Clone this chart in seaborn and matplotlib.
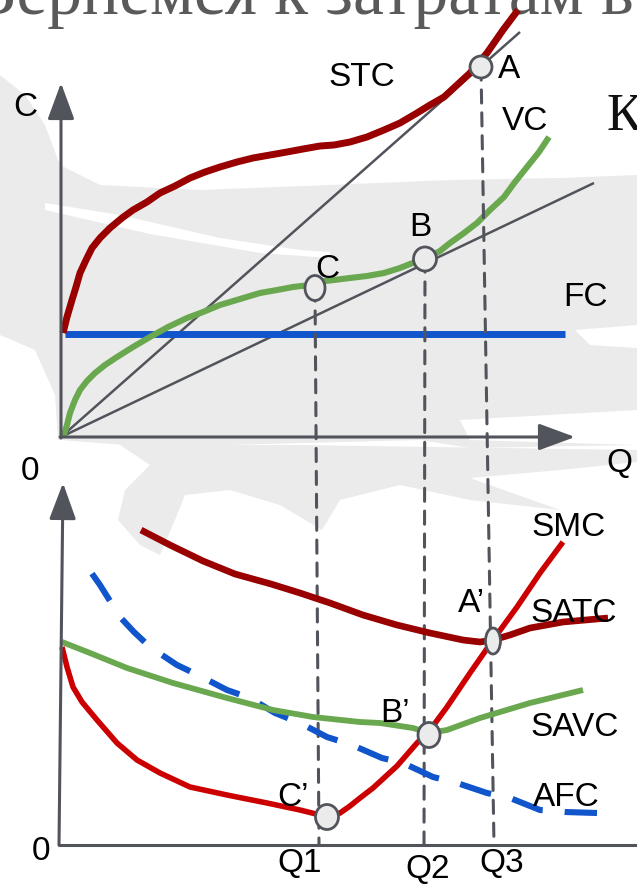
import numpy as np
import pandas as pd
import matplotlib
matplotlib.use("Agg")
import matplotlib.pyplot as plt
import seaborn as sns
from matplotlib.patches import Ellipse, Polygon, ConnectionPatch

# ---------------- data ----------------
# Upper panel: total costs (Q, C), origin at the corner of the axes
stc_q = [1, 5, 10, 14, 18, 24, 30, 38, 48, 60, 71, 85, 98, 113, 128, 143, 158, 175, 191, 208, 225, 241,
         258, 272, 288, 305, 322, 338, 355, 368, 382, 395, 408, 425, 441, 456]
stc_c = [104, 120, 137, 150, 164, 177, 189, 199, 209, 219, 227, 235, 244, 251, 259, 265, 270, 275, 279, 282,
         285, 288, 291, 292, 295, 300, 307, 314, 324, 332, 340, 352, 364, 384, 407, 427]
vc_q = [1, 5, 8, 13, 18, 25, 33, 43, 55, 71, 88, 106, 125, 141, 158, 178, 198, 215, 231, 248, 255, 272,
        288, 305, 322, 338, 348, 365, 378, 388, 402, 415, 428, 442, 453, 465, 477, 487]
vc_c = [0, 12, 24, 37, 47, 56, 64, 72, 80, 90, 100, 110, 119, 125, 132, 138, 144, 147, 150, 152, 155, 157,
        159, 161, 164, 169, 173, 179, 186, 194, 204, 214, 227, 240, 255, 270, 285, 300]
fc_q = [3, 503]
fc_c = [103, 103]
rayA_q = [-1, 458]
rayA_c = [0, 405]
rayB_q = [-1, 532]
rayB_c = [0, 254]
top_pts_names = ["A", "B", "C"]
top_pts_q = [419, 363, 253]
top_pts_c = [370, 178, 149]

# Lower panel: average and marginal costs
satc_q = [81, 110, 143, 175, 211, 240, 270, 303, 337, 370, 403, 420, 433, 450, 470, 503, 548]
satc_c = [315, 300, 284, 271, 261, 252, 242, 230, 220, 212, 205, 203, 205, 210, 217, 223, 227]
savc_q = [2, 30, 67, 113, 167, 213, 253, 300, 320, 353, 369, 387, 420, 470, 523]
savc_c = [203, 192, 177, 162, 147, 135, 128, 123, 122, 117, 112, 115, 127, 142, 155]
smc_q = [2, 7, 13, 22, 37, 57, 77, 100, 130, 167, 207, 240, 260, 267, 280, 290, 300, 313, 337, 357, 370,
         387, 410, 433, 457, 480, 503]
smc_c = [198, 178, 158, 143, 125, 102, 85, 72, 58, 50, 42, 35, 30, 28, 32, 39, 47, 57, 79, 102, 115,
         138, 172, 205, 238, 272, 303]
afc_q = [21, 40, 60, 74, 90, 117, 138, 167, 190, 215, 240, 267, 292, 322, 343, 373, 397, 427, 450, 480, 505, 537]
afc_c = [287, 260, 228, 213, 198, 180, 170, 155, 147, 132, 122, 108, 100, 87, 82, 68, 62, 52, 47, 35, 33, 32]
bot_pts_names = ["A’", "B’", "C’"]
bot_pts_q = [433, 369, 267]
bot_pts_c = [204, 110, 28]
q_tick_labels = ["Q1", "Q2", "Q3"]
q_ticks_bottom = [259, 364, 434]

# ---------------- styling ----------------
sns.set_theme(style="white")
plt.rcParams["font.family"] = ["Liberation Sans", "DejaVu Sans"]
plt.rcParams["lines.solid_capstyle"] = "butt"
plt.rcParams["lines.dash_capstyle"] = "butt"
plt.rcParams["lines.solid_joinstyle"] = "round"

DARKRED = "#990000"
RED = "#cc0000"
GREEN = "#6aa84f"
BLUE = "#1155cc"
GRAY = "#52545c"
WMARK = "#ebebeb"

W, H = 637, 884
DPI = 100
fig = plt.figure(figsize=(W / DPI, H / DPI), dpi=DPI)
fig.patch.set_facecolor("white")

# background / decoration axes in pixel units
ax_bg = fig.add_axes([0, 0, 1, 1])
ax_bg.set_xlim(0, W)
ax_bg.set_ylim(H, 0)
ax_bg.axis("off")

# upper panel (origin at pixel 62, 437) and lower panel (origin at pixel 60, 845)
ax_t = fig.add_axes([0, 0, 1, 1])
ax_t.set_xlim(-62, W - 62)
ax_t.set_ylim(437 - H, 437)
ax_b = fig.add_axes([0, 0, 1, 1])
ax_b.set_xlim(-60, W - 60)
ax_b.set_ylim(845 - H, 845)
# label layer in pixel units
ax_lbl = fig.add_axes([0, 0, 1, 1])
ax_lbl.set_xlim(0, W)
ax_lbl.set_ylim(H, 0)
for a in (ax_t, ax_b, ax_lbl):
    a.axis("off")
    a.patch.set_alpha(0)
ax_bg.set_zorder(0)
ax_t.set_zorder(1)
ax_b.set_zorder(2)
ax_lbl.set_zorder(3)

# ---- watermark brush strokes (decoration) ----
wm_shapes = [
    [(0, 75), (25, 95), (45, 125), (60, 165), (100, 185), (200, 190), (330, 185), (450, 180),
     (560, 178), (637, 175), (637, 445), (470, 448), (420, 440), (150, 447), (60, 440), (0, 440)],
    [(120, 445), (300, 445), (637, 450), (637, 462), (560, 470), (470, 478), (560, 510), (470, 500),
     (400, 485), (340, 500), (322, 530), (280, 505), (230, 490), (185, 495), (175, 520), (160, 555),
     (140, 545), (118, 520), (125, 490), (150, 465)],
]
wm_white = [
    [(45, 203), (120, 215), (220, 238), (300, 250), (330, 252), (330, 258), (260, 253), (150, 234), (45, 210)],
    [(0, 335), (35, 350), (55, 395), (58, 440), (0, 440)],
    [(575, 330), (637, 325), (637, 348), (590, 345)],
    [(460, 420), (637, 410), (637, 445), (470, 440)],
]
for pts in wm_shapes:
    ax_bg.add_patch(Polygon(pts, closed=True, facecolor=WMARK, edgecolor="none"))
for pts in wm_white:
    ax_bg.add_patch(Polygon(pts, closed=True, facecolor="white", edgecolor="none"))

# slide text fragments
ax_bg.text(634, 14, "Вернемся к затратам в", family=["Liberation Serif", "DejaVu Serif"],
           fontsize=50, color="#5a5a5a", ha="right", va="baseline")
ax_bg.text(606, 130, "К", family=["Liberation Serif", "DejaVu Serif"],
           fontsize=38, color="#111111", ha="left", va="baseline")

# ---- axes arrows ----
arrow_kw = dict(arrowstyle="-|>,head_length=0.38,head_width=0.14", mutation_scale=59,
                color=GRAY, lw=2.2, shrinkA=0, shrinkB=0)
ax_t.annotate("", xy=(-1, 354), xytext=(-1, -1), arrowprops=arrow_kw)
ax_t.annotate("", xy=(513, 0), xytext=(-2, 0), arrowprops=arrow_kw)
ax_b.annotate("", xy=(3, 362), xytext=(-1, 0), arrowprops=arrow_kw)
ax_b.plot([-2, 600], [0, 0], color=GRAY, lw=2.2)

# ---- upper panel curves ----
line_kw = dict(sort=False, estimator=None)
sns.lineplot(x=rayA_q, y=rayA_c, ax=ax_t, color=GRAY, linewidth=1.8, **line_kw)
sns.lineplot(x=rayB_q, y=rayB_c, ax=ax_t, color=GRAY, linewidth=1.8, **line_kw)
sns.lineplot(x=fc_q, y=fc_c, ax=ax_t, color=BLUE, linewidth=5, **line_kw)
sns.lineplot(x=vc_q, y=vc_c, ax=ax_t, color=GREEN, linewidth=4.4, **line_kw)
sns.lineplot(x=stc_q, y=stc_c, ax=ax_t, color=DARKRED, linewidth=5, **line_kw)

# ---- lower panel curves ----
# dash phase chosen so the AFC curve ends with a full dash (1 data unit = 1 pixel here)
afc_lw, dash_on, dash_off = 4.4, 5.3, 3.6
pt2px = DPI / 72.0
afc_len = float(np.sum(np.hypot(np.diff(afc_q), np.diff(afc_c))))
on_px = dash_on * afc_lw * pt2px
period_px = (dash_on + dash_off) * afc_lw * pt2px
offset_lw = ((on_px - afc_len) % period_px) / (afc_lw * pt2px)
sns.lineplot(x=afc_q, y=afc_c, ax=ax_b, color=BLUE, linewidth=afc_lw,
             linestyle=(offset_lw, (dash_on, dash_off)), **line_kw)
sns.lineplot(x=savc_q, y=savc_c, ax=ax_b, color=GREEN, linewidth=4.2, **line_kw)
sns.lineplot(x=satc_q, y=satc_c, ax=ax_b, color=DARKRED, linewidth=4.8, **line_kw)
sns.lineplot(x=smc_q, y=smc_c, ax=ax_b, color=RED, linewidth=4.0, **line_kw)

# ---- dashed projection lines (top point -> lower Q axis) ----
for qt, ct, qb in zip(top_pts_q[::-1], top_pts_c[::-1], q_ticks_bottom):
    con = ConnectionPatch(xyA=(qt, ct), coordsA=ax_t.transData, xyB=(qb, 0), coordsB=ax_b.transData,
                          color=GRAY, lw=2.2, linestyle=(0, (4.3, 3.2)), zorder=4)
    ax_t.add_artist(con)

# ---- highlighted points ----
top_sizes = [(22, 22), (23, 24), (20, 25)]
bot_sizes = [(15, 26), (22, 25), (23, 25)]
for q, c, (w, h) in zip(top_pts_q, top_pts_c, top_sizes):
    ax_t.add_patch(Ellipse((q, c), w, h, facecolor="#ebebeb", edgecolor=GRAY, lw=2.0, zorder=6))
for q, c, (w, h) in zip(bot_pts_q, bot_pts_c, bot_sizes):
    ax_b.add_patch(Ellipse((q, c), w, h, facecolor="#ebebeb", edgecolor=GRAY, lw=2.0, zorder=6))

# ---- labels (pixel positions) ----
fs = 24
labels = [
    ("C", 25, 108), ("0", 30, 471), ("Q", 619, 463),
    ("STC", 362, 78), ("A", 509, 69), ("VC", 525, 122), ("B", 420, 227), ("C", 327, 269), ("FC", 586, 297),
    ("SMC", 569, 528), ("A’", 471, 603), ("SATC", 574, 613), ("B’", 395, 713), ("SAVC", 575, 728),
    ("C’", 293, 798), ("AFC", 566, 797), ("0", 41, 852),
]
for s, x, y in labels:
    ax_lbl.text(x, y, s, fontsize=fs, color="black", ha="center", va="center")
for s, x, y in zip(q_tick_labels, [300, 428, 502], [864, 869, 863]):
    ax_lbl.text(x, y, s, fontsize=fs, color="black", ha="center", va="center")

fig.savefig("out.png", dpi=DPI, facecolor="white")
